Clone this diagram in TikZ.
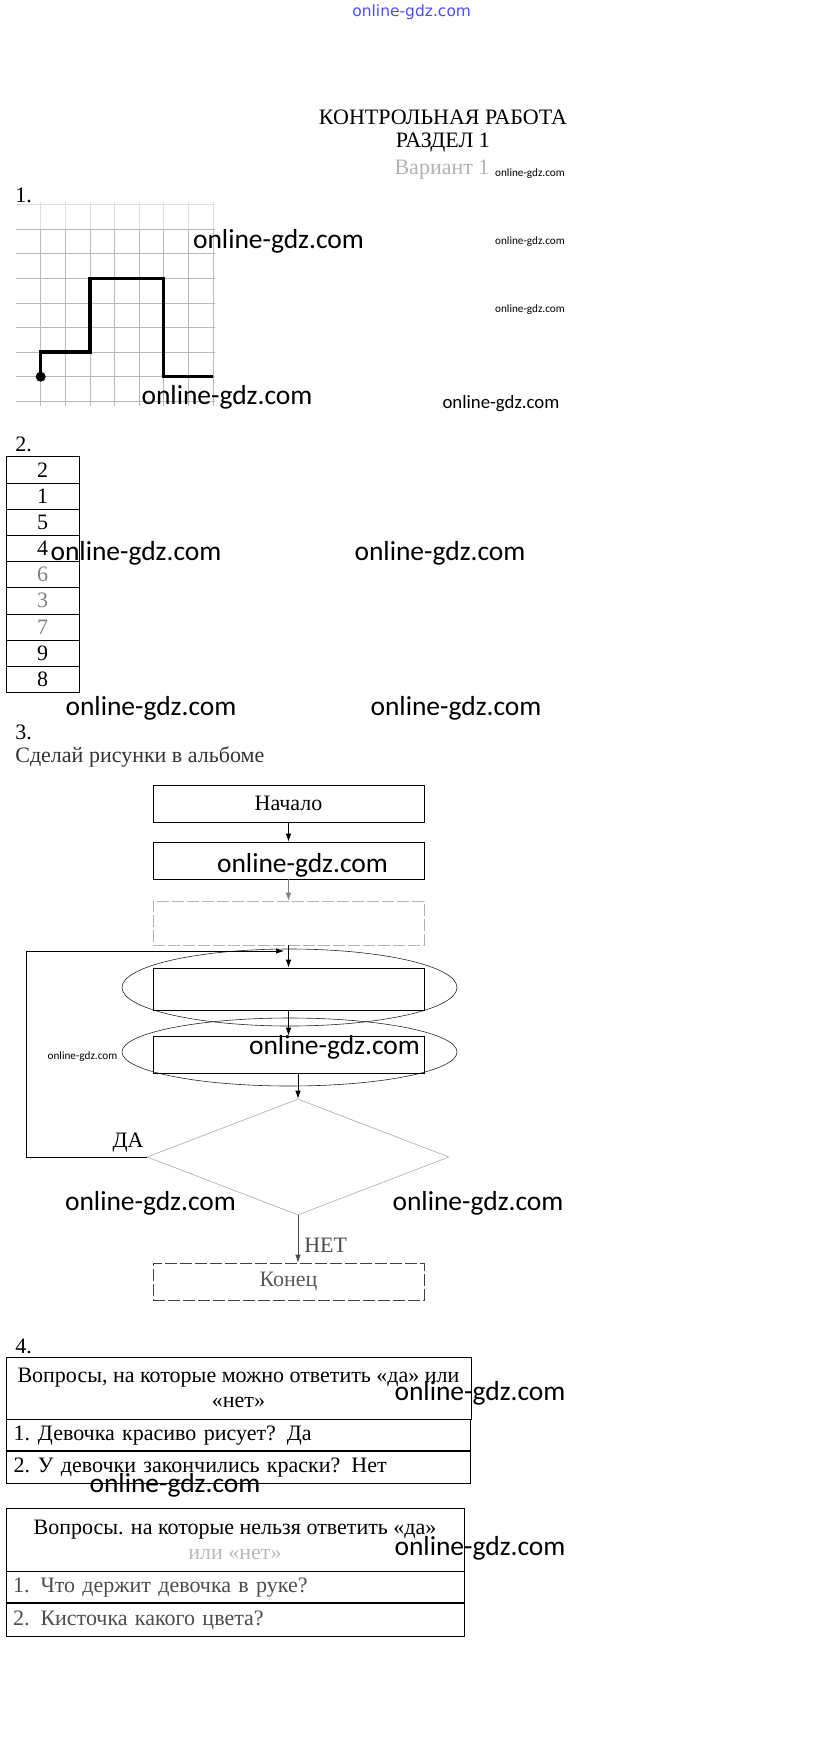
\documentclass[tikz,border=0pt]{standalone}
\usepackage{fontspec}
\setmainfont{Liberation Serif}
\newfontfamily\wmfont{Carlito}
\newfontfamily\urlfont{DejaVu Sans}
\usetikzlibrary{shapes.geometric,arrows.meta}

\begin{document}
\begin{tikzpicture}[x=1pt,y=-1pt,line width=0.7pt,
        txt/.style={font=\fontsize{22}{25}\selectfont, inner sep=0pt},
        wm/.style={font=\wmfont\fontsize{27.5}{30}\selectfont, inner sep=0pt},
        wmmid/.style={font=\wmfont\fontsize{18.8}{20}\selectfont, inner sep=0pt},
        wmsmall/.style={font=\wmfont\fontsize{11.2}{13}\selectfont, inner sep=0pt},
        block/.style={draw, minimum width=271pt, inner sep=0pt, font=\fontsize{22}{25}\selectfont},
        faded/.style={draw=gray!60, dash pattern=on 12pt off 3pt},
        ring/.style={ellipse, draw=black!85, line width=0.6pt, minimum width=335pt, inner sep=0pt},
        cell/.style={draw, minimum width=73pt, minimum height=26.2pt, inner sep=0pt, font=\fontsize{22}{25}\selectfont},
        row/.style={draw, align=left, inner xsep=7pt, inner ysep=0pt, font=\fontsize{22}{25}\selectfont},
        >={Latex[length=8pt,width=5.5pt]}]
    \useasboundingbox (0,0) rectangle (823,1746);

    \node[font=\urlfont\fontsize{15.5}{17}\selectfont, text=blue!70, inner sep=0pt] (siteurl) at (411.7, 12) {online-gdz.com};

    % заголовок
    \node[txt] (title) at (443, 117) {КОНТРОЛЬНАЯ РАБОТА};
    \node[txt] (part) at (443, 143) {РАЗДЕЛ 1};
    \node[txt, text=gray!60] (variant) at (442, 170) {Вариант 1};

    % 1.
    \node[txt, anchor=west] (task1) at (15, 195) {1.};
    \begin{scope}[shift={(40.7,376.7)}, x=24.6pt, y=24.6pt]
        \foreach \r in {-1,...,6}
            \draw[gray!55, line width=0.6pt] (-1,\r) -- (7.1,\r);
        \draw[gray!25, line width=0.6pt] (-1,7) -- (7.1,7);
        \foreach \c in {0,...,7} {
            \draw[gray!55, line width=0.6pt] (\c,-1.2) -- (\c,6);
            \draw[gray!25, line width=0.6pt] (\c,6) -- (\c,7.1);
        }
        \draw[line width=3.5pt] (0,0) -- (0,1) -- (2,1) -- (2,4) -- (5,4) -- (5,0) -- (7,0);
        \fill (0,0) circle (5pt);
    \end{scope}

    % 2.
    \node[txt, anchor=west] (task2) at (15, 444) {2.};
    \foreach \v/\c [count=\i] in {2/black,1/black,5/black,4/black,6/gray,3/gray,7/gray,9/black,8/black}
        \node[cell, text=\c] (num\i) at (42.5, {443.6+26.2*\i}) {\v};

    % 3.
    \node[txt, anchor=west] (task3) at (15, 732) {3.};
    \node[txt, anchor=west, text=black!80] (album) at (15, 757) {Сделай рисунки в альбоме};

    \node[block, minimum height=37pt] (start) at (288.5, 803.5) {Начало};
    \node[block, minimum height=37pt] (act1) at (288.5, 860.5) {};
    \node[block, faded, minimum height=44pt] (act2) at (288.5, 923) {};
    \node[ring, minimum height=77pt] (ring1) at (289.5, 987.5) {};
    \node[block, minimum height=42pt] (act3) at (288.5, 989) {};
    \node[ring, minimum height=68pt] (ring2) at (289.5, 1052) {};
    \node[block, minimum height=37pt] (act4) at (288.5, 1054.5) {};
    \node[diamond, draw=gray!60, minimum width=302pt, minimum height=116pt, inner sep=0pt] (check) at (298, 1157) {};
    \node[block, faded, draw=gray!50!black, minimum height=37pt, text=gray!70!black] (stop) at (288.5, 1281.5) {Конец};

    \coordinate (loopdown) at (26, 1157);
    \coordinate (loopup) at (26, 951);
    \coordinate (loopin) at (284, 951);

    \draw[->] (start) -- (act1);
    \draw[->, gray] (act1) -- (act2);
    \draw[->] (act2) -- (act3);
    \draw[->] (act3) -- (act4);
    \draw[->] (act4.south -| check.north) -- (check.north);
    \draw[->, gray!60!black] (check.south) -- (check.south |- stop.north);
    \draw[->] (check.west) -- (loopdown) -- (loopup) -- (loopin);
    \node[txt] (yes) at (128, 1143) {ДА};
    \node[txt, anchor=west, text=gray!60!black] (no) at (304, 1245) {НЕТ};

    % 4.
    \node[txt, anchor=west] (task4) at (15, 1346) {4.};
    \node[draw, txt, minimum width=465pt, minimum height=62pt, align=center] (headyes) at (238.5, 1388)
        {Вопросы, на которые можно ответить «да» или\\«нет»};
    \node[row, text width=450pt, minimum height=31pt, anchor=north] (yes1) at (headyes.south)
        {1.\hspace{8pt}Девочка красиво рисует? Да};
    \node[row, text width=450pt, minimum height=32pt, anchor=north] (yes2) at (yes1.south)
        {2.\hspace{8pt}У девочки закончились краски? Нет};

    \node[draw, txt, minimum width=458pt, minimum height=63pt, align=center] (headno) at (235, 1539.5)
        {Вопросы. на которые нельзя ответить «да»\\\textcolor{gray!55}{или «нет»}};
    \node[row, text width=444pt, minimum height=31pt, anchor=north, text=gray!60!black] (no1) at (headno.south)
        {1. Что держит девочка в руке?};
    \node[row, text width=444pt, minimum height=33pt, anchor=north, text=gray!60!black] (no2) at (no1.south)
        {2. Кисточка какого цвета?};

    % водяные знаки
    \foreach \x/\y [count=\k] in {278.5/241, 227/397, 136/553, 440/553, 151/708, 456/708,
            302.5/865, 334.5/1047.5, 150.5/1203, 478/1203, 480/1393, 175/1485, 480/1548}
        \node[wm] (wm\k) at (\x,\y) {online-gdz.com};
    \node[wmmid] (wmmid) at (501, 404) {online-gdz.com};
    \foreach \x/\y [count=\k] in {530/174, 530/242, 530/310, 82.5/1057}
        \node[wmsmall] (wms\k) at (\x,\y) {online-gdz.com};
\end{tikzpicture}
\end{document}
